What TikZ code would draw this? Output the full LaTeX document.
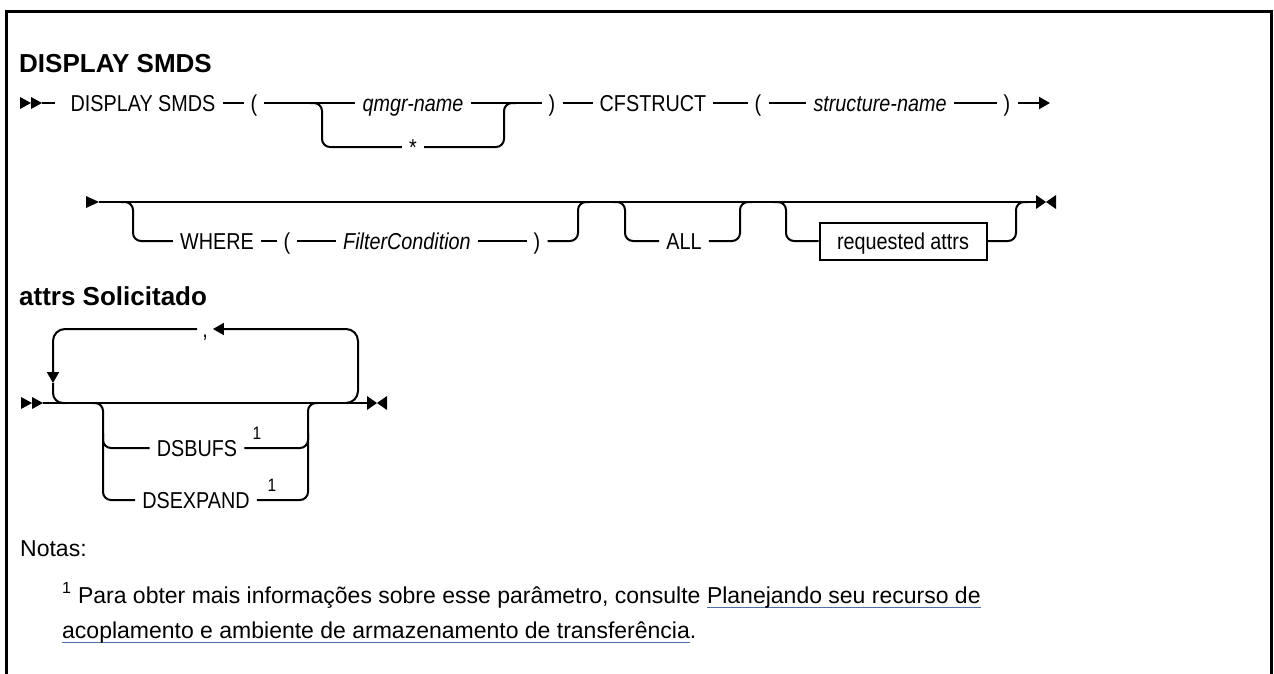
\documentclass[tikz,border=0pt]{standalone}
\usepackage{fontspec}
\setmainfont{Liberation Sans}
\newfontfamily\railfont[FakeStretch=0.86]{Liberation Sans}
\usetikzlibrary{arrows.meta}
\definecolor{linkblue}{RGB}{78,110,168}
\newcommand{\linkul}[1]{\setbox0=\hbox{#1}\rlap{\textcolor{linkblue}{\rule[-5pt]{\wd0}{1.3pt}}}\box0}
\tikzset{
  rail/.style={line width=2pt},
  tip/.style={-{Triangle[length=11pt,width=12pt]}},
  txt/.style={font=\railfont\fontsize{23}{28}\selectfont, inner xsep=7pt,
    inner ysep=0pt, text height=16.5pt, text depth=0pt},
  var/.style={txt, font=\railfont\itshape\fontsize{23}{28}\selectfont},
  attrbox/.style={txt, draw, line width=2pt, minimum width=167pt, minimum height=37pt},
  sup/.style={font=\railfont\fontsize{18}{20}\selectfont, inner sep=0pt},
  head/.style={font=\fontsize{26}{30}\selectfont\bfseries, anchor=base west, inner sep=0pt},
  note/.style={font=\fontsize{23}{27}\selectfont, anchor=base west, inner sep=0pt},
  startmark/.pic={\fill (0,0) -- (-11,-6) -- (-11,6) -- cycle;
                  \fill (-11,0) -- (-22,-6) -- (-22,6) -- cycle;},
  railstart/.pic={\fill (0,0) -- (-13,-6) -- (-13,6) -- cycle;},
  endmark/.pic={\fill (0,-7) -- (10,0) -- (0,7) -- cycle;
                \fill (20,-7) -- (10,0) -- (20,7) -- cycle;}
}
\begin{document}
\begin{tikzpicture}[x=1pt,y=-1pt]
  \useasboundingbox (0,0) rectangle (1274,673);
  % frame
  \draw[line width=3pt] (6,680) -- (6,11) -- (1271,11) -- (1271,680);

  \node[head] (hdr) at (19,72) {DISPLAY SMDS};
  \node[head] (subhdr) at (19,305) {attrs Solicitado};

  % first line
  \coordinate (l1start) at (42,103);
  \pic at (l1start) {startmark};
  \node[txt] (disp) at (143,103) {DISPLAY SMDS};
  \node[txt] (lpa) at (254,103) {(};
  \node[var] (qmgr) at (413,103) {qmgr-name};
  \node[txt] (star) at (413,147) {*};
  \node[txt] (rpa) at (552,103) {)};
  \node[txt] (cfs) at (653,103) {CFSTRUCT};
  \node[txt] (lpb) at (758,103) {(};
  \node[var] (sname) at (880,103) {structure-name};
  \node[txt] (rpb) at (1007,103) {)};
  \coordinate (l1end) at (1050,103);
  \coordinate (c1l) at (322,103);
  \coordinate (c1r) at (504,103);
  \draw[rail, shorten >=8pt] (l1start) -- (disp);
  \draw[rail] (disp) -- (lpa) -- (qmgr) -- (rpa) -- (cfs) -- (lpb) -- (sname) -- (rpb);
  \draw[rail, rounded corners=8pt] ([xshift=-12pt]c1l) -- (c1l) |- (star);
  \draw[rail, rounded corners=8pt] (star) -| (c1r) -- ([xshift=12pt]c1r);
  \draw[rail, tip] (rpb) -- (l1end);

  % second line
  \coordinate (l2start) at (99,202);
  \coordinate (l2end) at (1036,202);
  \pic at (l2start) {railstart};
  \draw[rail] (l2start) -- (l2end);
  \pic at (l2end) {endmark};
  \coordinate (c2a) at (133,202);
  \coordinate (c2b) at (578,202);
  \coordinate (c2c) at (625,202);
  \coordinate (c2d) at (740,202);
  \coordinate (c2e) at (786,202);
  \coordinate (c2f) at (1016,202);
  \node[txt] (where) at (217,241) {WHERE};
  \node[txt] (lpc) at (287,241) {(};
  \node[var] (filt) at (407,241) {FilterCondition};
  \node[txt] (rpc) at (537,241) {)};
  \node[txt] (all) at (684,241) {ALL};
  \node[attrbox] (reqattr) at (903,241) {requested attrs};
  \draw[rail, rounded corners=8pt] ([xshift=-12pt]c2a) -- (c2a) |- (where);
  \draw[rail] (where) -- (lpc) -- (filt) -- (rpc);
  \draw[rail, rounded corners=8pt] (rpc) -| (c2b) -- ([xshift=12pt]c2b);
  \draw[rail, rounded corners=8pt] ([xshift=-12pt]c2c) -- (c2c) |- (all);
  \draw[rail, rounded corners=8pt] (all) -| (c2d) -- ([xshift=12pt]c2d);
  \draw[rail, rounded corners=8pt] ([xshift=-12pt]c2e) -- (c2e) |- (reqattr);
  \draw[rail, rounded corners=8pt] (reqattr) -| (c2f) -- ([xshift=12pt]c2f);

  % requested attrs
  \coordinate (l3start) at (43,403);
  \coordinate (l3end) at (367,403);
  \pic at (l3start) {startmark};
  \draw[rail] (l3start) -- (l3end);
  \pic at (l3end) {endmark};
  \coordinate (lpl) at (53,403);
  \coordinate (lpr) at (358,403);
  \coordinate (lparr) at (53,383);
  \node[txt, inner xsep=5pt] (comma) at (205,329) {,};
  \draw[rail, tip, rounded corners=12pt] ([xshift=-12pt]lpr) -- (lpr) |- (comma);
  \draw[rail, tip, rounded corners=12pt] (comma) -| (lparr);
  \draw[rail, rounded corners=10pt] (lparr) |- ([xshift=12pt]lpl);
  \coordinate (c3a) at (103,403);
  \coordinate (c3b) at (308,403);
  \node[txt] (dsbufs) at (197,448) {DSBUFS};
  \node[txt] (dsexp) at (196,500) {DSEXPAND};
  \node[sup] (ref1) at (257,433) {1};
  \node[sup] (ref2) at (272,485) {1};
  \draw[rail, rounded corners=8pt] ([xshift=-10pt]c3a) -- (c3a) |- (dsexp);
  \draw[rail, rounded corners=8pt] ([yshift=-30pt]c3a) |- (dsbufs);
  \draw[rail, rounded corners=8pt] (dsexp) -| (c3b) -- ([xshift=10pt]c3b);
  \draw[rail, rounded corners=8pt] (dsbufs) -| ([yshift=-30pt]c3b);

  % notes
  \node[note] (notas) at (20,556) {Notas:};
  \node[note] (fnline1) at (62,603) {\textsuperscript{1} Para obter mais informações sobre esse parâmetro, consulte \linkul{Planejando seu recurso de}};
  \node[note] (fnline2) at (62,638) {\linkul{acoplamento e ambiente de armazenamento de transferência}.};
\end{tikzpicture}
\end{document}
